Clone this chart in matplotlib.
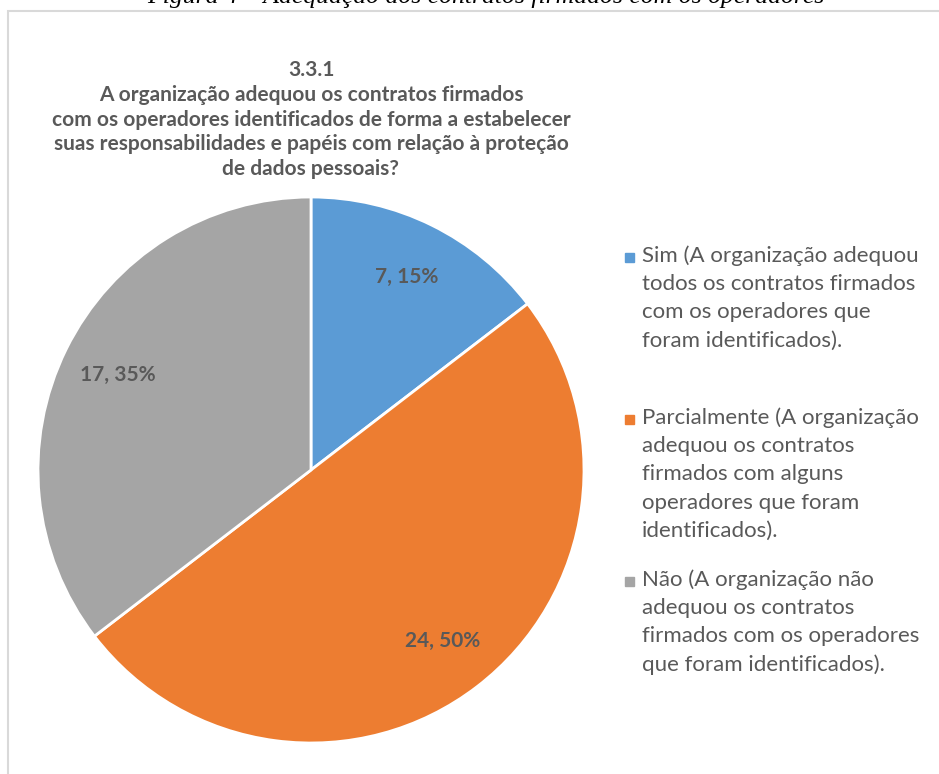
import matplotlib.pyplot as plt
from matplotlib.patches import Rectangle

plt.rcParams['font.family'] = ['Lato', 'DejaVu Sans']

# data
categories = [
    "Sim (A organização adequou\ntodos os contratos firmados\ncom os operadores que\nforam identificados).",
    "Parcialmente (A organização\nadequou os contratos\nfirmados com alguns\noperadores que foram\nidentificados).",
    "Não (A organização não\nadequou os contratos\nfirmados com os operadores\nque foram identificados).",
]
values = [7, 24, 17]
colors = ['#5b9bd5', '#ed7d31', '#a5a5a5']
title = ("3.3.1\nA organização adequou os contratos firmados\n"
         "com os operadores identificados de forma a estabelecer\n"
         "suas responsabilidades e papéis com relação à proteção\n"
         "de dados pessoais?")
caption = "Figura 4 – Adequação dos contratos firmados com os operadores"

W, H = 939, 774
fig = plt.figure(figsize=(W / 100, H / 100), dpi=100)
txt = '#595959'

# chart frame (partly cut off)
fig.patches.append(Rectangle((8 / W, -0.1), 1.1, (H - 11) / H + 0.1, transform=fig.transFigure,
                             fill=False, edgecolor='#d9d9d9', linewidth=1.5))
fig.text(486 / W, 1 - 3 / H, caption, ha='center', va='baseline', fontsize=18.5,
         family='Liberation Serif', style='italic', color='#000000')

total = sum(values)
ax = fig.add_axes([38 / W, 31 / H, 546 / W, 546 / H])
wedges, _, autotexts = ax.pie(values, colors=colors, startangle=90, counterclock=False,
                              wedgeprops=dict(edgecolor='white', linewidth=2),
                              autopct=lambda p: '%d, %d%%' % (round(p * total / 100), round(p)),
                              pctdistance=0.79, textprops=dict(color=txt, fontsize=15, fontweight='bold'))
ax.set_xlim(-1, 1)
ax.set_ylim(-1, 1)

fig.text(311 / W, 1 - 60 / H, title, ha='center', va='top', fontsize=15, fontweight='bold',
         color=txt, linespacing=1.3)

# legend
for i, (lab, c) in enumerate(zip(categories, colors)):
    y = 1 - (245 + i * 162) / H
    fig.patches.append(Rectangle((625 / W, y - 17 / H), 9 / W, 9 / H, transform=fig.transFigure,
                                 color=c))
    fig.text(642 / W, y, lab, ha='left', va='top', fontsize=16, color=txt, linespacing=1.52)

fig.savefig('out.png', dpi=100)
